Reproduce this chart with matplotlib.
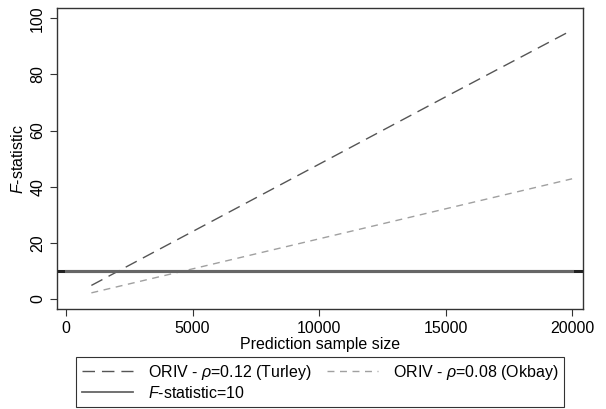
import matplotlib.pyplot as plt

plt.rcParams['font.family'] = ['Liberation Sans', 'DejaVu Sans']
plt.rcParams['mathtext.fontset'] = 'custom'
plt.rcParams['mathtext.it'] = 'Liberation Sans:italic'
plt.rcParams['mathtext.rm'] = 'Liberation Sans'

# prediction sample sizes and F-statistics
sample_size = [1000, 5000, 10000, 15000, 20000]
f_turley = [4.8, 24.0, 48.0, 72.0, 95.8]
f_okbay = [2.15, 10.7, 21.4, 32.1, 42.8]
f_thresh_x = [0, 20000]
f_thresh = [10, 10]

fs = 11.5

fig = plt.figure(figsize=(6.06, 4.09), dpi=100)
ax = fig.add_axes([0.094, 0.2445, 0.868, 0.7355])

ax.axhline(10, color='#222222', lw=2.2, zorder=1)
l1, = ax.plot(sample_size, f_turley, color='#555555', lw=1.0,
              dashes=(9, 5), label=r'ORIV - $\rho$=0.12 (Turley)', zorder=2)
l2, = ax.plot(sample_size, f_okbay, color='#a0a0a0', lw=1.0,
              dashes=(5, 4), label=r'ORIV - $\rho$=0.08 (Okbay)', zorder=2)
l3, = ax.plot(f_thresh_x, f_thresh, color='#666666', lw=2.2,
              label=r'$F$-statistic=10', zorder=3)

ax.set_xlim(-360, 20430)
ax.set_ylim(-3.6, 103.6)
ax.set_xticks([0, 5000, 10000, 15000, 20000])
ax.set_yticks([0, 20, 40, 60, 80, 100])
ax.tick_params(direction='out', length=5, width=0.8, labelsize=fs, color='#333333')
for lab in ax.get_yticklabels():
    lab.set_rotation(90)
    lab.set_va('center')
for s in ax.spines.values():
    s.set_color('#333333')
    s.set_linewidth(1.0)

ax.set_xlabel('Prediction sample size', fontsize=fs, labelpad=1)
ax.set_ylabel(r'$F$-statistic', fontsize=fs, labelpad=3)

leg = fig.legend([l1, l3, l2], [l1.get_label(), l3.get_label(), l2.get_label()],
                 loc='lower center', bbox_to_anchor=(320 / 606, 0.006),
                 bbox_transform=fig.transFigure, borderaxespad=0, ncol=2,
                 frameon=True, fancybox=False, fontsize=fs, handlelength=3.2,
                 columnspacing=1.0, borderpad=0.35, labelspacing=0.2,
                 handletextpad=0.9, edgecolor='black')
leg.get_frame().set_linewidth(0.8)
leg.legend_handles[1].set_linewidth(1.3)

fig.savefig('out.png', dpi=100)
